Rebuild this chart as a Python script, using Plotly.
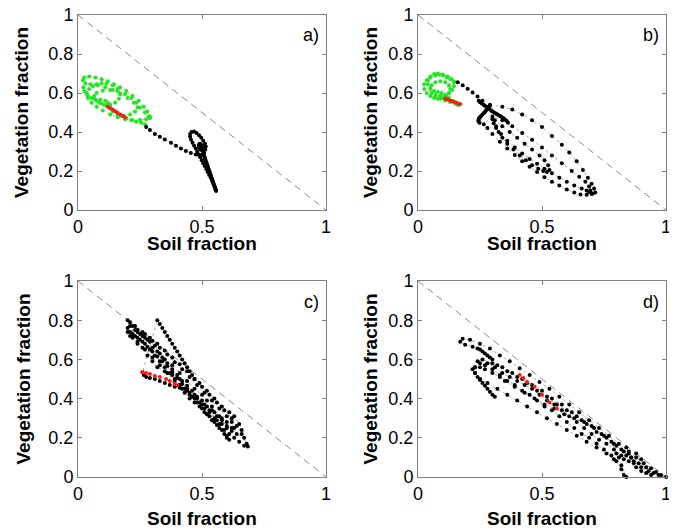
import plotly.graph_objects as go

# ---------------- data ----------------
diag_x = [0, 1]
diag_y = [1, 0]

x_ticks = [0, 0.5, 1]
x_tick_labels = ["0", "0.5", "1"]
y_ticks = [0, 0.2, 0.4, 0.6, 0.8, 1]
y_tick_labels = ["0", "0.2", "0.4", "0.6", "0.8", "1"]
panel_labels = ["a)", "b)", "c)", "d)"]
x_title = "Soil fraction"
y_title = "Vegetation fraction"

a_green = [(0.29,0.48),(0.28,0.505),(0.265,0.53),(0.245,0.56),(0.22,0.585),(0.195,0.61),(0.17,0.63),
           (0.145,0.645),(0.12,0.66),(0.095,0.67),(0.07,0.68),(0.045,0.685),(0.025,0.68),(0.02,0.665),
           (0.03,0.65),(0.05,0.645),(0.08,0.64),(0.11,0.63),(0.14,0.615),(0.17,0.595),(0.2,0.575),
           (0.225,0.55),(0.25,0.525),(0.27,0.5),(0.285,0.48),(0.29,0.47),(0.275,0.465),(0.25,0.462),
           (0.22,0.462),(0.19,0.465),(0.16,0.475),(0.13,0.49),(0.1,0.51),(0.075,0.53),(0.055,0.55),
           (0.04,0.575),(0.035,0.6),(0.045,0.62),(0.06,0.635),(0.075,0.645),(0.095,0.65),(0.115,0.648),
           (0.14,0.64),(0.16,0.62),(0.17,0.595),(0.165,0.57),(0.15,0.55),(0.13,0.54),(0.105,0.54),
           (0.085,0.55),(0.07,0.565),(0.065,0.585),(0.075,0.6),(0.1,0.612),(0.13,0.615),(0.16,0.61),
           (0.19,0.595),(0.215,0.575),(0.235,0.55),(0.24,0.525),(0.23,0.505),(0.21,0.49),(0.185,0.485),
           (0.16,0.49),(0.14,0.505),(0.13,0.52),(0.125,0.535),(0.12,0.55),(0.11,0.56),(0.09,0.565),
           (0.065,0.57),(0.04,0.585),(0.025,0.61),(0.022,0.63),(0.035,0.595),(0.055,0.575),(0.075,0.56),
           (0.095,0.548),(0.115,0.535),(0.135,0.52),(0.155,0.503),(0.175,0.485),(0.195,0.47),
           (0.215,0.46),(0.235,0.452),(0.255,0.447),(0.27,0.44)]
a_black = [(0.275,0.425),(0.29,0.41),(0.31,0.39),(0.33,0.375),(0.35,0.362),(0.375,0.345),(0.395,0.33),
           (0.415,0.315),(0.435,0.302),(0.455,0.292),(0.475,0.285),(0.49,0.28),(0.5,0.285),(0.508,0.295),
           (0.513,0.31),(0.515,0.325),(0.512,0.34),(0.505,0.355),(0.497,0.37),(0.488,0.383),(0.478,0.395),
           (0.468,0.402),(0.458,0.4),(0.452,0.39),(0.452,0.375),(0.456,0.36),(0.462,0.345),(0.468,0.33),
           (0.475,0.315),(0.481,0.3),(0.487,0.285),(0.493,0.27),(0.499,0.255),(0.505,0.24),(0.511,0.225),
           (0.517,0.21),(0.523,0.195),(0.529,0.18),(0.535,0.165),(0.541,0.15),(0.546,0.135),(0.551,0.12),
           (0.555,0.105),(0.557,0.097),(0.556,0.101),(0.554,0.108),(0.552,0.115),(0.55,0.122),(0.548,0.13),
           (0.546,0.137),(0.544,0.145),(0.542,0.152),(0.54,0.16),(0.538,0.167),(0.536,0.175),(0.534,0.182),
           (0.532,0.19),(0.53,0.197),(0.528,0.205),(0.526,0.212),(0.524,0.22),(0.522,0.227),(0.52,0.235),
           (0.518,0.242),(0.516,0.25),(0.514,0.257),(0.512,0.265),(0.51,0.272),(0.508,0.28),(0.507,0.29),
           (0.506,0.3),(0.505,0.31),(0.503,0.32),(0.5,0.33),(0.495,0.337),(0.49,0.34),(0.487,0.333),
           (0.489,0.322),(0.494,0.312),(0.5,0.305)]
a_red = [(0.12,0.53),(0.13,0.522),(0.14,0.514),(0.15,0.506),(0.16,0.498),(0.17,0.49),(0.18,0.482),(0.19,0.474)]

b_green = [(0.16,0.54),(0.15,0.55),(0.14,0.56),(0.125,0.575),(0.11,0.59),(0.095,0.6),(0.08,0.605),
           (0.065,0.61),(0.05,0.625),(0.04,0.645),(0.04,0.665),(0.05,0.685),(0.065,0.697),(0.08,0.7),
           (0.1,0.695),(0.12,0.685),(0.135,0.672),(0.145,0.655),(0.145,0.635),(0.138,0.615),(0.125,0.6),
           (0.11,0.59),(0.09,0.585),(0.07,0.59),(0.055,0.6),(0.05,0.62),(0.055,0.64),(0.07,0.655),
           (0.09,0.66),(0.11,0.655),(0.125,0.64),(0.13,0.62),(0.125,0.6),(0.115,0.585),(0.1,0.575),
           (0.08,0.57),(0.065,0.575),(0.05,0.585),(0.035,0.6),(0.025,0.62),(0.025,0.645),(0.035,0.665),
           (0.05,0.68),(0.07,0.69),(0.085,0.695),(0.1,0.69),(0.115,0.68),(0.13,0.67),(0.145,0.66),
           (0.07,0.58),(0.09,0.57),(0.11,0.562),(0.13,0.553),(0.15,0.545),(0.165,0.538)]
b_black = [(0.16,0.655),(0.18,0.64),(0.2,0.622),(0.22,0.603),(0.24,0.582),(0.26,0.56),(0.245,0.56),
           (0.25,0.552),(0.257,0.546),(0.264,0.54),(0.27,0.535),(0.277,0.528),(0.284,0.521),(0.29,0.515),
           (0.297,0.508),(0.304,0.502),(0.31,0.497),(0.317,0.492),(0.324,0.487),(0.331,0.482),(0.338,0.476),
           (0.345,0.47),(0.352,0.463),(0.358,0.456),(0.363,0.448),
           (0.29,0.535),(0.286,0.53),(0.282,0.523),(0.278,0.516),(0.274,0.51),(0.27,0.503),(0.265,0.497),
           (0.26,0.49),(0.255,0.483),(0.25,0.477),(0.246,0.47),(0.244,0.462),(0.244,0.455),(0.248,0.448),
           (0.29,0.54),(0.34,0.53),(0.38,0.515),(0.42,0.49),(0.46,0.46),(0.5,0.425),(0.54,0.38),(0.58,0.335),
           (0.61,0.295),(0.64,0.25),(0.665,0.205),(0.685,0.165),(0.7,0.135),(0.71,0.11),(0.715,0.09),
           (0.705,0.085),(0.69,0.092),(0.7,0.082),(0.68,0.078),(0.655,0.08),(0.63,0.09),(0.6,0.105),
           (0.57,0.125),(0.54,0.145),(0.51,0.168),(0.48,0.195),(0.45,0.222),(0.42,0.25),(0.39,0.282),
           (0.36,0.315),(0.33,0.35),(0.3,0.39),(0.28,0.42),(0.265,0.44),
           (0.3,0.48),(0.34,0.46),(0.38,0.43),(0.42,0.395),(0.46,0.36),(0.5,0.32),(0.54,0.28),(0.58,0.24),
           (0.62,0.2),(0.65,0.17),(0.675,0.145),(0.69,0.12),(0.695,0.1),(0.68,0.1),(0.66,0.11),(0.63,0.125),
           (0.6,0.145),(0.57,0.165),(0.54,0.188),(0.51,0.212),(0.48,0.237),(0.45,0.262),(0.42,0.29),
           (0.39,0.32),(0.36,0.355),(0.335,0.39),(0.315,0.42),(0.305,0.445),(0.3,0.465),
           (0.31,0.46),(0.34,0.43),(0.37,0.4),(0.4,0.37),(0.43,0.34),(0.46,0.31),(0.49,0.28),(0.51,0.255),
           (0.525,0.23),(0.53,0.205),(0.52,0.195),(0.505,0.2),(0.485,0.212),(0.46,0.23),(0.435,0.255),
           (0.41,0.28),(0.385,0.31),(0.36,0.34),(0.34,0.37),(0.325,0.4),(0.315,0.43)]
b_red = [(0.11,0.572),(0.12,0.567),(0.13,0.562),(0.14,0.557),(0.15,0.552),(0.16,0.547),(0.17,0.543)]

c_black = [(0.2,0.8),(0.23,0.77),(0.26,0.74),(0.29,0.71),(0.32,0.68),(0.35,0.645),(0.38,0.61),(0.41,0.575),
           (0.44,0.54),(0.47,0.5),(0.5,0.46),(0.53,0.42),(0.56,0.38),(0.59,0.34),(0.62,0.3),(0.64,0.26),
           (0.66,0.22),(0.68,0.17),(0.685,0.155),(0.67,0.16),(0.65,0.18),(0.63,0.2),(0.61,0.22),(0.59,0.24),
           (0.57,0.27),(0.55,0.3),(0.53,0.33),(0.51,0.35),(0.49,0.38),(0.47,0.4),(0.45,0.42),(0.43,0.45),
           (0.41,0.47),(0.39,0.5),(0.37,0.53),(0.35,0.56),(0.33,0.59),(0.31,0.62),(0.29,0.65),(0.27,0.68),
           (0.25,0.7),(0.23,0.72),(0.21,0.74),(0.2,0.76),(0.21,0.79),(0.24,0.75),(0.27,0.73),(0.3,0.695),
           (0.33,0.66),(0.36,0.625),(0.39,0.585),(0.42,0.55),(0.45,0.51),(0.48,0.47),(0.51,0.43),(0.54,0.39),
           (0.57,0.35),(0.6,0.31),(0.62,0.28),(0.63,0.25),(0.62,0.235),(0.6,0.26),(0.58,0.29),(0.56,0.31),
           (0.54,0.34),(0.52,0.36),(0.5,0.39),(0.48,0.41),(0.46,0.44),(0.44,0.465),(0.42,0.49),(0.4,0.52),
           (0.38,0.55),(0.36,0.58),(0.34,0.61),(0.32,0.64),(0.3,0.66),(0.28,0.7),(0.26,0.72),(0.24,0.74),
           (0.22,0.77),(0.22,0.73),(0.24,0.71),(0.26,0.69),(0.28,0.665),(0.3,0.64),(0.32,0.615),(0.34,0.59),
           (0.36,0.565),(0.38,0.535),(0.4,0.505),(0.42,0.475),(0.44,0.44),(0.46,0.41),(0.48,0.38),(0.5,0.35),
           (0.52,0.32),(0.54,0.29),(0.56,0.265),(0.58,0.24),(0.6,0.21),(0.61,0.19),(0.6,0.2),(0.59,0.22),
           (0.57,0.25),(0.55,0.28),(0.53,0.31),(0.51,0.33),(0.49,0.36),(0.47,0.38),(0.45,0.4),(0.43,0.43),
           (0.41,0.455),(0.39,0.46),(0.37,0.47),(0.35,0.48),(0.33,0.49),(0.31,0.5),(0.29,0.505),(0.275,0.51),
           (0.265,0.52),(0.26,0.535),(0.32,0.8),(0.33,0.78),(0.34,0.76),(0.35,0.74),(0.36,0.72),(0.37,0.7),
           (0.38,0.68),(0.39,0.66),(0.4,0.64),(0.41,0.62),(0.42,0.6),(0.43,0.58),(0.44,0.56),(0.45,0.54),
           (0.46,0.52),(0.47,0.5),(0.49,0.48),(0.52,0.44),(0.55,0.4),(0.58,0.36),(0.61,0.33),(0.63,0.31),
           (0.65,0.27),(0.66,0.24),(0.67,0.2),(0.64,0.22),(0.62,0.25),(0.6,0.28),(0.57,0.31),(0.54,0.36),
           (0.52,0.39),(0.5,0.42),(0.47,0.45),(0.44,0.49),(0.41,0.53),(0.38,0.57),(0.35,0.6),(0.33,0.63),
           (0.31,0.67),(0.29,0.69),(0.27,0.71),(0.25,0.73),(0.23,0.75),(0.21,0.77),
           (0.24,0.68),(0.27,0.65),(0.3,0.61),(0.33,0.57),(0.36,0.53),(0.39,0.49),(0.42,0.45),(0.45,0.43),
           (0.48,0.4),(0.51,0.37),(0.55,0.33),(0.58,0.3),(0.6,0.25),(0.58,0.27),(0.56,0.29),(0.53,0.34),
           (0.5,0.37),(0.47,0.42),(0.44,0.45),(0.41,0.5),(0.38,0.52),(0.35,0.54),(0.32,0.56),(0.3,0.59),
           (0.28,0.62),(0.26,0.66),(0.24,0.69),(0.22,0.71),(0.21,0.72),(0.2,0.74)]
c_red = [(0.26,0.535),(0.275,0.53),(0.29,0.525),(0.31,0.515),(0.33,0.51),(0.355,0.5),(0.37,0.49),
         (0.39,0.475),(0.4,0.468)]

d_black = [(0.31,0.41),(0.3,0.42),(0.29,0.435),(0.28,0.45),(0.27,0.465),(0.26,0.48),(0.25,0.495),
           (0.24,0.51),(0.23,0.53),(0.22,0.55),(0.23,0.56),(0.25,0.56),(0.27,0.55),(0.3,0.53),(0.33,0.51),
           (0.36,0.49),(0.39,0.47),(0.42,0.44),(0.45,0.42),(0.48,0.39),(0.51,0.36),(0.54,0.34),(0.57,0.31),
           (0.6,0.28),(0.63,0.25),(0.66,0.22),(0.69,0.2),(0.72,0.17),(0.75,0.14),(0.78,0.11),(0.8,0.08),
           (0.82,0.04),(0.83,0.01),(0.84,0.0),(0.82,0.06),(0.79,0.09),(0.76,0.12),(0.72,0.15),(0.68,0.18),
           (0.64,0.21),(0.6,0.24),(0.56,0.27),(0.52,0.3),(0.48,0.33),(0.44,0.36),(0.4,0.39),(0.36,0.42),
           (0.32,0.45),(0.28,0.48),(0.25,0.5),(0.23,0.53),(0.23,0.56),(0.25,0.58),(0.28,0.58),(0.31,0.56),
           (0.34,0.53),(0.37,0.51),(0.4,0.49),(0.43,0.47),(0.46,0.45),(0.49,0.42),(0.52,0.39),(0.55,0.37),
           (0.58,0.34),(0.61,0.31),(0.64,0.28),(0.67,0.25),(0.7,0.22),(0.73,0.19),(0.76,0.17),(0.79,0.14),
           (0.82,0.11),(0.85,0.08),(0.88,0.05),(0.9,0.03),(0.92,0.02),(0.94,0.01),(0.9,0.05),(0.86,0.1),
           (0.83,0.13),(0.8,0.16),(0.76,0.2),(0.72,0.23),(0.68,0.27),(0.64,0.31),(0.6,0.34),(0.56,0.37),
           (0.52,0.41),(0.48,0.44),(0.44,0.48),(0.4,0.51),(0.36,0.54),(0.32,0.57),(0.3,0.6),(0.29,0.61),
           (0.28,0.62),(0.27,0.63),(0.26,0.64),(0.25,0.65),(0.24,0.655),(0.22,0.665),(0.19,0.675),
           (0.17,0.69),(0.18,0.705),(0.21,0.7),(0.25,0.68),(0.29,0.655),(0.33,0.62),(0.37,0.59),(0.41,0.555),
           (0.45,0.52),(0.49,0.485),(0.53,0.45),(0.57,0.41),(0.61,0.37),(0.65,0.33),(0.69,0.29),(0.73,0.25),
           (0.77,0.21),(0.81,0.17),(0.85,0.13),(0.88,0.1),(0.91,0.07),(0.94,0.045),(0.96,0.025),(0.98,0.01),
           (1.0,0.0),(0.97,0.01),(0.93,0.03),(0.89,0.07),(0.87,0.08),(0.84,0.11),(0.82,0.14),(0.79,0.17),
           (0.75,0.21),(0.71,0.25),(0.67,0.28),(0.63,0.3),(0.59,0.32),(0.55,0.35),(0.51,0.37),(0.47,0.4),
           (0.43,0.43),(0.39,0.46),(0.35,0.49),(0.33,0.52),(0.3,0.55),(0.27,0.57),(0.24,0.59),(0.26,0.6),
           (0.3,0.58),(0.34,0.56),(0.38,0.53),(0.42,0.5),(0.46,0.47),(0.5,0.44),(0.54,0.4),(0.58,0.37),
           (0.62,0.33),(0.66,0.29),(0.7,0.26),(0.74,0.22),(0.78,0.18),(0.8,0.12),(0.81,0.1),(0.83,0.09),
           (0.85,0.12),(0.86,0.1),(0.84,0.15),(0.87,0.07),(0.88,0.12),(0.9,0.09),(0.92,0.05),(0.95,0.02)]
d_red = [(0.41,0.52),(0.425,0.505),(0.44,0.485),(0.47,0.46),(0.5,0.42),(0.53,0.38),(0.56,0.35)]

panels = [
    (a_green, a_black, a_red),
    (b_green, b_black, b_red),
    ([], c_black, c_red),
    ([], d_black, d_red),
]

# ---------------- figure ----------------
# The page body adds an 8 px margin, so the figure is drawn 8 px smaller and
# panel edges are given in page pixels minus that offset.
OFF = 8
W, H = 677 - OFF, 529 - OFF


def fx(px):
    return (px - OFF) / W


def fy(py):
    return 1 - (py - OFF) / H


x_domains = [[fx(78), fx(326)], [fx(418), fx(666)], [fx(78), fx(326)], [fx(418), fx(666)]]
y_domains = [[fy(210), fy(15)], [fy(210), fy(15)], [fy(477), fy(281)], [fy(477), fy(281)]]
ytitle_standoff = [14, 5, 12, 5]
xtitle_y = [fy(243), fy(243), fy(518), fy(518)]

FONT = "Liberation Sans, Arial, sans-serif"
fig = go.Figure()


def add_series(pts, color, linecolor, xa, ya, size):
    if not pts:
        return
    xs = [p[0] for p in pts]
    ys = [p[1] for p in pts]
    fig.add_trace(go.Scatter(x=xs, y=ys, mode="lines+markers", xaxis=xa, yaxis=ya,
                             line=dict(color=linecolor, width=0.8, dash="dot"),
                             marker=dict(color=color, size=size, line=dict(width=0)),
                             showlegend=False, hoverinfo="skip", cliponaxis=False))


layout = {}
annotations = []
for i, (green, black, red) in enumerate(panels):
    n = "" if i == 0 else str(i + 1)
    xa, ya = "x" + n, "y" + n
    fig.add_trace(go.Scatter(x=diag_x, y=diag_y, mode="lines", xaxis=xa, yaxis=ya,
                             line=dict(color="#8a8a8a", width=1, dash="7px,5px"),
                             showlegend=False, hoverinfo="skip"))
    add_series(green, "#22e622", "#66dd66", xa, ya, 4)
    add_series(black, "#000000", "#999999", xa, ya, 4)
    add_series(red, "#ff1a1a", "#ff6666", xa, ya, 4)

    common = dict(range=[0, 1], showgrid=False, zeroline=False, showline=True,
                  linecolor="#808080", linewidth=1, mirror="ticks", ticks="inside",
                  ticklen=4, tickcolor="#808080", automargin=False, ticklabeloverflow="allow",
                  tickfont=dict(family=FONT, size=18, color="#000000"))
    layout["xaxis" + n] = dict(common, domain=x_domains[i], anchor=ya,
                               tickvals=x_ticks, ticktext=x_tick_labels)
    layout["yaxis" + n] = dict(common, domain=y_domains[i], anchor=xa,
                               tickvals=y_ticks, ticktext=y_tick_labels,
                               title=dict(text="<b>" + y_title + "</b>", standoff=ytitle_standoff[i],
                                          font=dict(family=FONT, size=19, color="#000000")))
    # x-axis title placed as a paper annotation for exact vertical placement
    annotations.append(dict(text="<b>" + x_title + "</b>", xref="paper", yref="paper",
                            x=sum(x_domains[i]) / 2, y=xtitle_y[i], xanchor="center", yanchor="middle",
                            showarrow=False, font=dict(family=FONT, size=19, color="#000000")))
    annotations.append(dict(text=panel_labels[i], x=0.94, y=0.895, xref=xa, yref=ya,
                            showarrow=False, font=dict(family=FONT, size=18, color="#000000")))

fig.update_layout(**layout)
fig.update_layout(width=W, height=H, margin=dict(l=0, r=0, t=0, b=0, autoexpand=False),
                  paper_bgcolor="white", plot_bgcolor="white", annotations=annotations)

fig.write_html("out.html")
